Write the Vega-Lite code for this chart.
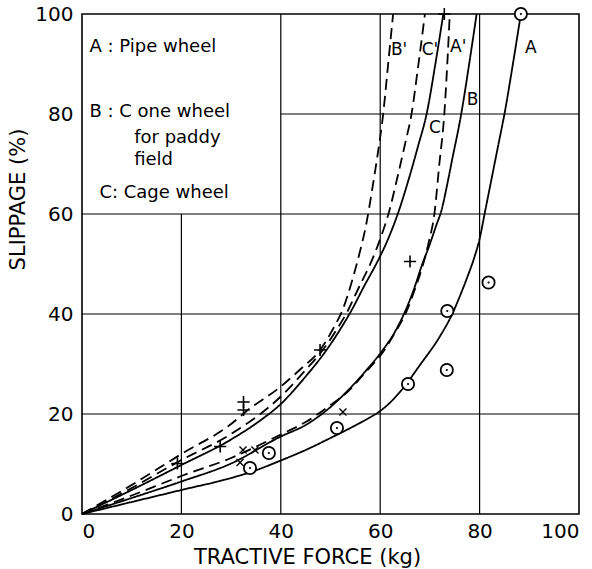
{
  "$schema": "https://vega.github.io/schema/vega-lite/v6.json",
  "width": 497,
  "height": 500,
  "autosize": {"type": "none"},
  "padding": {"left": 82, "top": 14, "right": 13, "bottom": 55},
  "background": "white",
  "config": {
    "view": {"stroke": "black", "strokeWidth": 1.6},
    "font": "DejaVu Sans",
    "axis": {
      "grid": false, "domain": false, "ticks": false,
      "labelFont": "DejaVu Sans", "labelFontSize": 20, "labelColor": "black",
      "titleFont": "DejaVu Sans", "titleFontSize": 21, "titleColor": "black", "titleFontWeight": "normal"
    }
  },
  "datasets": {
    "grid": [
      {"x1": 20, "y1": 0, "x2": 20, "y2": 60},
      {"x1": 40, "y1": 0, "x2": 40, "y2": 100},
      {"x1": 60, "y1": 0, "x2": 60, "y2": 100},
      {"x1": 80, "y1": 0, "x2": 80, "y2": 100},
      {"x1": 0, "y1": 20, "x2": 100, "y2": 20},
      {"x1": 0, "y1": 40, "x2": 100, "y2": 40},
      {"x1": 0, "y1": 60, "x2": 100, "y2": 60},
      {"x1": 40, "y1": 80, "x2": 100, "y2": 80}
    ],
    "curves": [
      {"curve": "A", "style": "solid", "x": 0, "y": 0},
      {"curve": "A", "style": "solid", "x": 10, "y": 2.4},
      {"curve": "A", "style": "solid", "x": 20, "y": 4.8},
      {"curve": "A", "style": "solid", "x": 30, "y": 7.2},
      {"curve": "A", "style": "solid", "x": 34, "y": 8.4},
      {"curve": "A", "style": "solid", "x": 40, "y": 10.7},
      {"curve": "A", "style": "solid", "x": 45, "y": 12.8},
      {"curve": "A", "style": "solid", "x": 50, "y": 15.2},
      {"curve": "A", "style": "solid", "x": 54, "y": 17.2},
      {"curve": "A", "style": "solid", "x": 57, "y": 18.8},
      {"curve": "A", "style": "solid", "x": 60, "y": 20.6},
      {"curve": "A", "style": "solid", "x": 62, "y": 22.3},
      {"curve": "A", "style": "solid", "x": 64.3, "y": 24.8},
      {"curve": "A", "style": "solid", "x": 68, "y": 29.8},
      {"curve": "A", "style": "solid", "x": 72, "y": 35.5},
      {"curve": "A", "style": "solid", "x": 74.5, "y": 40},
      {"curve": "A", "style": "solid", "x": 76, "y": 43.5},
      {"curve": "A", "style": "solid", "x": 77.5, "y": 47.3},
      {"curve": "A", "style": "solid", "x": 79, "y": 51.5},
      {"curve": "A", "style": "solid", "x": 80, "y": 55},
      {"curve": "A", "style": "solid", "x": 81, "y": 60},
      {"curve": "A", "style": "solid", "x": 82.4, "y": 67},
      {"curve": "A", "style": "solid", "x": 83.8, "y": 74},
      {"curve": "A", "style": "solid", "x": 85, "y": 80},
      {"curve": "A", "style": "solid", "x": 86.7, "y": 90},
      {"curve": "A", "style": "solid", "x": 88.3, "y": 100},
      {"curve": "B", "style": "solid", "x": 0, "y": 0},
      {"curve": "B", "style": "solid", "x": 10, "y": 3.2},
      {"curve": "B", "style": "solid", "x": 20, "y": 6.5},
      {"curve": "B", "style": "solid", "x": 30, "y": 10.1},
      {"curve": "B", "style": "solid", "x": 40, "y": 15.5},
      {"curve": "B", "style": "solid", "x": 45, "y": 17.8},
      {"curve": "B", "style": "solid", "x": 50, "y": 21.4},
      {"curve": "B", "style": "solid", "x": 53.3, "y": 24.5},
      {"curve": "B", "style": "solid", "x": 57, "y": 28.5},
      {"curve": "B", "style": "solid", "x": 60.3, "y": 32.5},
      {"curve": "B", "style": "solid", "x": 63, "y": 36.5},
      {"curve": "B", "style": "solid", "x": 65, "y": 40.5},
      {"curve": "B", "style": "solid", "x": 66.8, "y": 45},
      {"curve": "B", "style": "solid", "x": 68.3, "y": 49.5},
      {"curve": "B", "style": "solid", "x": 70, "y": 54},
      {"curve": "B", "style": "solid", "x": 71.2, "y": 57.5},
      {"curve": "B", "style": "solid", "x": 72.4, "y": 61},
      {"curve": "B", "style": "solid", "x": 73.4, "y": 65.5},
      {"curve": "B", "style": "solid", "x": 74.4, "y": 70.5},
      {"curve": "B", "style": "solid", "x": 76.3, "y": 80},
      {"curve": "B", "style": "solid", "x": 77.9, "y": 90},
      {"curve": "B", "style": "solid", "x": 79.4, "y": 100},
      {"curve": "C", "style": "solid", "x": 0, "y": 0},
      {"curve": "C", "style": "solid", "x": 10, "y": 4.8},
      {"curve": "C", "style": "solid", "x": 20, "y": 9.8},
      {"curve": "C", "style": "solid", "x": 30, "y": 14.9},
      {"curve": "C", "style": "solid", "x": 36, "y": 18.8},
      {"curve": "C", "style": "solid", "x": 40, "y": 22},
      {"curve": "C", "style": "solid", "x": 45, "y": 27.5},
      {"curve": "C", "style": "solid", "x": 49.2, "y": 32.8},
      {"curve": "C", "style": "solid", "x": 52, "y": 37},
      {"curve": "C", "style": "solid", "x": 54.1, "y": 40.5},
      {"curve": "C", "style": "solid", "x": 57, "y": 46},
      {"curve": "C", "style": "solid", "x": 59.3, "y": 50.2},
      {"curve": "C", "style": "solid", "x": 61.5, "y": 54.8},
      {"curve": "C", "style": "solid", "x": 63.6, "y": 60.2},
      {"curve": "C", "style": "solid", "x": 65.9, "y": 67.5},
      {"curve": "C", "style": "solid", "x": 67.6, "y": 73.5},
      {"curve": "C", "style": "solid", "x": 69.4, "y": 80.3},
      {"curve": "C", "style": "solid", "x": 71.1, "y": 90},
      {"curve": "C", "style": "solid", "x": 72.7, "y": 100},
      {"curve": "A'", "style": "dashed", "x": 0, "y": 0},
      {"curve": "A'", "style": "dashed", "x": 10, "y": 3.7},
      {"curve": "A'", "style": "dashed", "x": 20, "y": 7.6},
      {"curve": "A'", "style": "dashed", "x": 30, "y": 11.2},
      {"curve": "A'", "style": "dashed", "x": 40, "y": 15.9},
      {"curve": "A'", "style": "dashed", "x": 45, "y": 18.4},
      {"curve": "A'", "style": "dashed", "x": 50, "y": 21.8},
      {"curve": "A'", "style": "dashed", "x": 53.6, "y": 24.6},
      {"curve": "A'", "style": "dashed", "x": 57, "y": 28.3},
      {"curve": "A'", "style": "dashed", "x": 60.5, "y": 32.3},
      {"curve": "A'", "style": "dashed", "x": 63, "y": 36.3},
      {"curve": "A'", "style": "dashed", "x": 65.3, "y": 40.5},
      {"curve": "A'", "style": "dashed", "x": 67, "y": 45},
      {"curve": "A'", "style": "dashed", "x": 68.5, "y": 49.5},
      {"curve": "A'", "style": "dashed", "x": 69.8, "y": 54.5},
      {"curve": "A'", "style": "dashed", "x": 70.9, "y": 60},
      {"curve": "A'", "style": "dashed", "x": 71.9, "y": 70},
      {"curve": "A'", "style": "dashed", "x": 72.9, "y": 80},
      {"curve": "A'", "style": "dashed", "x": 73.5, "y": 90},
      {"curve": "A'", "style": "dashed", "x": 74, "y": 100},
      {"curve": "B'", "style": "dashed", "x": 0, "y": 0},
      {"curve": "B'", "style": "dashed", "x": 10, "y": 5.8},
      {"curve": "B'", "style": "dashed", "x": 20, "y": 12},
      {"curve": "B'", "style": "dashed", "x": 30, "y": 18},
      {"curve": "B'", "style": "dashed", "x": 33, "y": 20.5},
      {"curve": "B'", "style": "dashed", "x": 40, "y": 25.5},
      {"curve": "B'", "style": "dashed", "x": 44, "y": 29},
      {"curve": "B'", "style": "dashed", "x": 47.9, "y": 32.8},
      {"curve": "B'", "style": "dashed", "x": 50.5, "y": 37},
      {"curve": "B'", "style": "dashed", "x": 52.5, "y": 41},
      {"curve": "B'", "style": "dashed", "x": 54.3, "y": 46.5},
      {"curve": "B'", "style": "dashed", "x": 55.8, "y": 52},
      {"curve": "B'", "style": "dashed", "x": 57.2, "y": 58},
      {"curve": "B'", "style": "dashed", "x": 58.4, "y": 65},
      {"curve": "B'", "style": "dashed", "x": 59.5, "y": 72},
      {"curve": "B'", "style": "dashed", "x": 60.6, "y": 80},
      {"curve": "B'", "style": "dashed", "x": 61.6, "y": 90},
      {"curve": "B'", "style": "dashed", "x": 62.6, "y": 100},
      {"curve": "C'", "style": "dashed", "x": 0, "y": 0},
      {"curve": "C'", "style": "dashed", "x": 10, "y": 5.2},
      {"curve": "C'", "style": "dashed", "x": 20, "y": 10.8},
      {"curve": "C'", "style": "dashed", "x": 30, "y": 16},
      {"curve": "C'", "style": "dashed", "x": 40, "y": 23.5},
      {"curve": "C'", "style": "dashed", "x": 45, "y": 28.8},
      {"curve": "C'", "style": "dashed", "x": 48.6, "y": 33},
      {"curve": "C'", "style": "dashed", "x": 51, "y": 36.5},
      {"curve": "C'", "style": "dashed", "x": 53.4, "y": 40.5},
      {"curve": "C'", "style": "dashed", "x": 55.8, "y": 45.5},
      {"curve": "C'", "style": "dashed", "x": 58, "y": 50},
      {"curve": "C'", "style": "dashed", "x": 60, "y": 55},
      {"curve": "C'", "style": "dashed", "x": 61.8, "y": 60.5},
      {"curve": "C'", "style": "dashed", "x": 63.5, "y": 67.5},
      {"curve": "C'", "style": "dashed", "x": 65, "y": 74},
      {"curve": "C'", "style": "dashed", "x": 66.3, "y": 80},
      {"curve": "C'", "style": "dashed", "x": 67.7, "y": 90},
      {"curve": "C'", "style": "dashed", "x": 69, "y": 100}
    ],
    "circles": [
      {"x": 33.8, "y": 9.2}, {"x": 37.6, "y": 12.2}, {"x": 51.3, "y": 17.2},
      {"x": 65.6, "y": 26}, {"x": 73.5, "y": 40.6}, {"x": 73.4, "y": 28.8},
      {"x": 81.8, "y": 46.3}, {"x": 88.3, "y": 100}
    ],
    "pluses": [
      {"x": 19.2, "y": 10.1}, {"x": 27.8, "y": 13.5}, {"x": 32.5, "y": 22.4},
      {"x": 32.5, "y": 20.8}, {"x": 47.9, "y": 32.8}, {"x": 66, "y": 50.5},
      {"x": 72.9, "y": 100}
    ],
    "crosses": [
      {"x": 31.8, "y": 10.3}, {"x": 32.4, "y": 12.8}, {"x": 34.8, "y": 12.8},
      {"x": 52.5, "y": 20.4}
    ],
    "legendText": [
      {"x": 1.5, "y": 93.5, "label": "A : Pipe  wheel"},
      {"x": 1.5, "y": 80.5, "label": "B : C one wheel"},
      {"x": 10.5, "y": 75.3, "label": "for paddy"},
      {"x": 10.5, "y": 70.8, "label": "field"},
      {"x": 3.5, "y": 64.3, "label": "C:  Cage wheel"}
    ],
    "curveLabels": [
      {"x": 90.3, "y": 93.2, "label": "A"},
      {"x": 78.6, "y": 82.8, "label": "B"},
      {"x": 71, "y": 77.2, "label": "C"},
      {"x": 63.8, "y": 92.8, "label": "B'"},
      {"x": 70, "y": 92.8, "label": "C'"},
      {"x": 75.7, "y": 93.5, "label": "A'"}
    ]
  },
  "layer": [
    {
      "data": {"name": "grid"},
      "mark": {"type": "rule", "color": "black", "strokeWidth": 1.2},
      "encoding": {
        "x": {"field": "x1", "type": "quantitative", "scale": {"domain": [0, 100], "nice": false},
              "axis": {"values": [0, 20, 40, 60, 80, 100], "title": "TRACTIVE FORCE (kg)", "labelPadding": 7, "titlePadding": 5, "titleX": 225, "titleAnchor": "middle"}},
        "y": {"field": "y1", "type": "quantitative", "scale": {"domain": [0, 100], "nice": false},
              "axis": {"values": [0, 20, 40, 60, 80, 100], "title": "SLIPPAGE (%)", "labelPadding": 9, "titlePadding": 6, "titleY": 185, "titleAnchor": "middle"}},
        "x2": {"field": "x2"},
        "y2": {"field": "y2"}
      }
    },
    {
      "data": {"name": "curves"},
      "mark": {"type": "line", "color": "black", "strokeWidth": 1.8, "interpolate": "monotone"},
      "encoding": {
        "x": {"field": "x", "type": "quantitative"},
        "y": {"field": "y", "type": "quantitative"},
        "detail": {"field": "curve"},
        "strokeDash": {"field": "style", "type": "nominal", "scale": {"domain": ["solid", "dashed"], "range": [[1, 0], [11, 6]]}, "legend": null}
      }
    },
    {
      "data": {"name": "circles"},
      "mark": {"type": "point", "shape": "circle", "size": 150, "filled": true, "fill": "white", "stroke": "black", "strokeWidth": 1.8, "opacity": 1},
      "encoding": {
        "x": {"field": "x", "type": "quantitative"},
        "y": {"field": "y", "type": "quantitative"}
      }
    },
    {
      "data": {"name": "circles"},
      "mark": {"type": "point", "shape": "circle", "size": 5, "filled": true, "color": "black", "opacity": 1},
      "encoding": {
        "x": {"field": "x", "type": "quantitative"},
        "y": {"field": "y", "type": "quantitative"}
      }
    },
    {
      "data": {"name": "pluses"},
      "mark": {"type": "point", "shape": "M-1,0L1,0M0,-1L0,1", "size": 150, "filled": false, "stroke": "black", "strokeWidth": 1.6, "opacity": 1},
      "encoding": {
        "x": {"field": "x", "type": "quantitative"},
        "y": {"field": "y", "type": "quantitative"}
      }
    },
    {
      "data": {"name": "crosses"},
      "mark": {"type": "point", "shape": "M-1,-1L1,1M-1,1L1,-1", "size": 50, "filled": false, "stroke": "black", "strokeWidth": 1.3, "opacity": 1},
      "encoding": {
        "x": {"field": "x", "type": "quantitative"},
        "y": {"field": "y", "type": "quantitative"}
      }
    },
    {
      "data": {"name": "legendText"},
      "mark": {"type": "text", "align": "left", "baseline": "middle", "fontSize": 18, "font": "DejaVu Sans", "color": "black"},
      "encoding": {
        "x": {"field": "x", "type": "quantitative"},
        "y": {"field": "y", "type": "quantitative"},
        "text": {"field": "label"}
      }
    },
    {
      "data": {"name": "curveLabels"},
      "mark": {"type": "text", "align": "center", "baseline": "middle", "fontSize": 17, "font": "DejaVu Sans", "color": "black"},
      "encoding": {
        "x": {"field": "x", "type": "quantitative"},
        "y": {"field": "y", "type": "quantitative"},
        "text": {"field": "label"}
      }
    }
  ]
}
